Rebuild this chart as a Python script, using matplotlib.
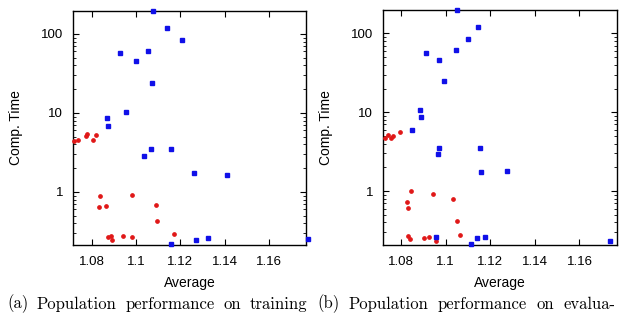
import matplotlib
matplotlib.use("Agg")
import matplotlib.pyplot as plt
from matplotlib.ticker import LogLocator, FixedLocator, NullFormatter

# panel (a): training
train_blue_x = [1.1077, 1.1140, 1.1209, 1.0929, 1.1056, 1.0999, 1.1073, 1.0869, 1.0875,
                1.0956, 1.1034, 1.1067, 1.1160, 1.1260, 1.1411, 1.1160, 1.1269, 1.1324, 1.1773]
train_blue_y = [195, 118, 83, 57.5, 61.5, 45, 24, 8.7, 6.8,
                10.3, 2.86, 3.47, 3.47, 1.75, 1.63, 0.222, 0.245, 0.262, 0.254]
train_red_x = [1.0719, 1.0738, 1.0773, 1.0779, 1.0806, 1.0821, 1.0839, 1.0835, 1.0866,
               1.0980, 1.1088, 1.1093, 1.1172, 1.0873, 1.0889, 1.0890, 1.0942, 1.0981]
train_red_y = [4.46, 4.5, 5.1, 5.37, 4.55, 5.3, 0.90, 0.646, 0.67,
               0.916, 0.69, 0.43, 0.291, 0.27, 0.277, 0.249, 0.28, 0.267]

# panel (b): evaluation
eval_blue_x = [1.1053, 1.1145, 1.1100, 1.0910, 1.1047, 1.0969, 1.0994, 1.0886, 1.0889,
               1.0847, 1.0968, 1.0965, 1.1154, 1.1159, 1.1277, 1.0956, 1.1115, 1.1141,
               1.1178, 1.1738]
eval_blue_y = [199, 121.6, 84.7, 57, 62.2, 45.5, 25.2, 10.6, 8.7,
               5.97, 3.57, 2.97, 3.53, 1.74, 1.79, 0.262, 0.211, 0.252,
               0.262, 0.233]
eval_red_x = [1.0726, 1.0740, 1.0753, 1.0765, 1.0793, 1.0846, 1.0828, 1.0832, 1.0944,
              1.1035, 1.1051, 1.1062, 1.0832, 1.0841, 1.0902, 1.0923, 1.0956]
eval_red_y = [4.73, 5.22, 4.73, 5.0, 5.63, 1.0, 0.72, 0.615, 0.91,
              0.80, 0.417, 0.275, 0.272, 0.247, 0.254, 0.264, 0.233]

xticks = [1.08, 1.1, 1.12, 1.14, 1.16]
xticklabels = ["1.08", "1.1", "1.12", "1.14", "1.16"]
yticks = [1, 10, 100]
yticklabels = ["1", "10", "100"]

caption_a = "(a) Population performance on training"
caption_b = "(b) Population performance on evalua-"

plt.rcParams["font.family"] = ["Liberation Sans", "DejaVu Sans"]

fig = plt.figure(figsize=(6.23, 3.16), dpi=100)
ax1 = fig.add_axes([0.1167, 0.2247, 0.3745, 0.7405])
ax2 = fig.add_axes([0.6148, 0.2256, 0.3751, 0.7427])

panels = [
    (ax1, train_blue_x, train_blue_y, train_red_x, train_red_y, (1.0715, 1.1766), (0.213, 195)),
    (ax2, eval_blue_x, eval_blue_y, eval_red_x, eval_red_y, (1.0719, 1.1767), (0.209, 198)),
]

for ax, bx, by, rx, ry, xl, yl in panels:
    ax.plot(rx, ry, linestyle="none", marker="o", ms=2.4, color="#e01818", mec="#e01818",
            clip_on=False, zorder=3)
    ax.plot(bx, by, linestyle="none", marker="s", ms=3.4, color="#1010e8", mec="#1010e8",
            clip_on=False, zorder=3)
    ax.set_yscale("log")
    ax.set_xlim(*xl)
    ax.set_ylim(*yl)
    ax.xaxis.set_major_locator(FixedLocator(xticks))
    ax.set_xticklabels(xticklabels)
    ax.yaxis.set_major_locator(FixedLocator(yticks))
    ax.set_yticklabels(yticklabels)
    ax.yaxis.set_minor_locator(LogLocator(base=10, subs=range(2, 10)))
    ax.yaxis.set_minor_formatter(NullFormatter())
    ax.tick_params(which="both", direction="in", top=True, right=True, labelsize=9.5)
    ax.tick_params(axis="y", which="major", length=4, width=0.8, pad=7)
    ax.tick_params(axis="y", which="minor", length=2, width=0.6)
    ax.tick_params(axis="x", which="major", length=4, width=0.8, pad=8)
    for s in ax.spines.values():
        s.set_linewidth(1.0)
    ax.set_xlabel("Average", fontsize=10, labelpad=6)
    ax.set_ylabel("Comp. Time", fontsize=10, labelpad=13)

# justified captions: spread words between left and right pixel edges
renderer = fig.canvas.get_renderer()
for caption, x0, x1 in [(caption_a, 7, 307), (caption_b, 317, 615)]:
    words = caption.split()
    texts = [fig.text(0, 1 - 304 / 316, w, ha="left", va="center",
                      fontsize=12, family="cmr10") for w in words]
    widths = [t.get_window_extent(renderer).width for t in texts]
    gap = (x1 - x0 - sum(widths)) / (len(words) - 1)
    pos = x0
    for t, w in zip(texts, widths):
        t.set_x(pos / 623)
        pos += w + gap

fig.savefig("out.png", dpi=100)
